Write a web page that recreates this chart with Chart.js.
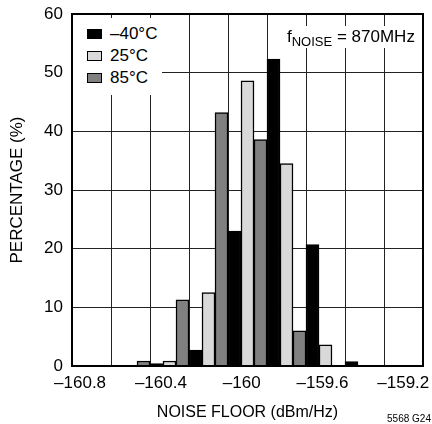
<!DOCTYPE html>
<html>
<head>
<meta charset="utf-8">
<script src="https://cdn.jsdelivr.net/npm/chart.js@4.4.1/dist/chart.umd.min.js"></script>
<style>
  body { margin: 0; background: #fff; }
  #wrap { position: relative; width: 432px; height: 424px; font-family: "Liberation Sans", Arial, sans-serif; color: #000; }
  #legend { position: absolute; left: 73px; top: 18px; width: 89px; height: 77px; background: #fff; }
  .item { position: absolute; left: 14px; height: 22px; line-height: 22px; font-size: 17px; white-space: nowrap; }
  .sw { display: inline-block; width: 13px; height: 8px; border: 1.5px solid #000; margin-right: 8px; vertical-align: middle; position: relative; top: -1px; }
  #note { position: absolute; left: 283px; top: 26px; padding: 0 4px; background: #fff; font-size: 17px; line-height: 22px; white-space: nowrap; }
  #note sub { font-size: 13px; vertical-align: -4px; line-height: 0; }
  #code { position: absolute; right: 1px; top: 413px; font-size: 10px; white-space: nowrap; }
</style>
</head>
<body>
<div id="wrap">
  <canvas id="chart" width="432" height="424"></canvas>
  <div id="legend"></div>
  <div id="note">f<sub>NOISE</sub> = 870MHz</div>
  <div id="code">5568 G24</div>
</div>
<script>
// bins (approx. centre of each histogram column, dBm/Hz)
const bins = ["-160.74", "-160.54", "-160.35", "-160.16", "-159.97", "-159.78", "-159.59", "-159.40", "-159.21"];

// percentage of parts per bin
const minus40 = [0, 0, 0.4, 2.7, 23.0, 52.3, 20.7, 0.75, 0];
const plus25 = [0, 0, 0.85, 12.5, 48.6, 34.5, 3.6, 0, 0];
const plus85 = [0, 0.85, 11.3, 43.2, 38.6, 6.0, 0, 0, 0];

const seriesNames = ["\u201340\u00b0C", "25\u00b0C", "85\u00b0C"];
const seriesColors = ["#000000", "#d9d9d9", "#808080"];

const xTicks = [-160.8, -160.4, -160, -159.6, -159.2];
const yTicks = [0, 10, 20, 30, 40, 50, 60];

const family = "'Liberation Sans', Arial, sans-serif";

function dash(v) {
    return (v < 0 ? "\u2013" : "") + Math.abs(v);
}

// legend drawn as html over the plot
const legend = document.getElementById("legend");
seriesNames.forEach((name, i) => {
    const item = document.createElement("div");
    item.className = "item";
    item.style.top = (5 + i * 22) + "px";
    const sw = document.createElement("span");
    sw.className = "sw";
    sw.style.background = seriesColors[i];
    item.appendChild(sw);
    item.appendChild(document.createTextNode(name));
    legend.appendChild(item);
});

const frame = {
    id: "frame",
    afterDraw(chart) {
        const { ctx, chartArea: a } = chart;
        ctx.save();
        ctx.strokeStyle = "#000";
        ctx.lineWidth = 2;
        ctx.strokeRect(a.left, a.top, a.right - a.left, a.bottom - a.top);
        ctx.restore();
    }
};

new Chart("chart", {
    type: "bar",
    data: {
        labels: bins,
        datasets: [minus40, plus25, plus85].map((d, i) => ({
            label: seriesNames[i],
            data: d,
            backgroundColor: seriesColors[i],
            borderColor: "#000",
            borderWidth: 1.5,
            barPercentage: 1,
            categoryPercentage: 1
        }))
    },
    options: {
        responsive: false,
        animation: false,
        layout: { padding: { top: 14, right: 9, left: 0, bottom: 0 } },
        plugins: {
            legend: { display: false },
            tooltip: { enabled: false }
        },
        scales: {
            x: {
                type: "category",
                axis: "x",
                position: "bottom",
                grid: { color: "#222", lineWidth: 1, drawTicks: false, offset: true },
                border: { display: false },
                ticks: { display: false },
                afterFit: (s) => { s.height = 0 }
            },
            x2: {
                type: "linear",
                axis: "x",
                position: "bottom",
                offset: false,
                min: -160.84,
                max: -159.1025,
                grid: { display: false, drawTicks: false, offset: false },
                border: { display: false },
                afterBuildTicks: (s) => { s.ticks = xTicks.map((v) => ({ value: v })) },
                ticks: { color: "#000", font: { family: family, size: 17 }, padding: 7, maxRotation: 0, autoSkip: false, callback: (v) => dash(v) },
                title: { display: true, text: "NOISE FLOOR (dBm/Hz)", color: "#000", font: { family: family, size: 16 }, padding: { top: 0, bottom: 2 } },
                afterFit: (s) => {
                    s.height = 58;
                    s.paddingLeft = 0;
                    s.paddingRight = 0;
                }
            },
            y: {
                min: 0,
                max: 60,
                afterBuildTicks: (s) => { s.ticks = yTicks.map((v) => ({ value: v })) },
                grid: { color: "#222", lineWidth: 1, drawTicks: false },
                border: { display: false },
                ticks: { color: "#000", font: { family: family, size: 17 }, padding: 9 },
                title: { display: true, text: "PERCENTAGE (%)", color: "#000", font: { family: family, size: 17 }, padding: { top: 7, bottom: 0 } },
                afterFit: (s) => {
                    s.width = 72;
                    s.paddingTop = 0;
                    s.paddingBottom = 0;
                }
            }
        }
    },
    plugins: [frame]
});
</script>
</body>
</html>
